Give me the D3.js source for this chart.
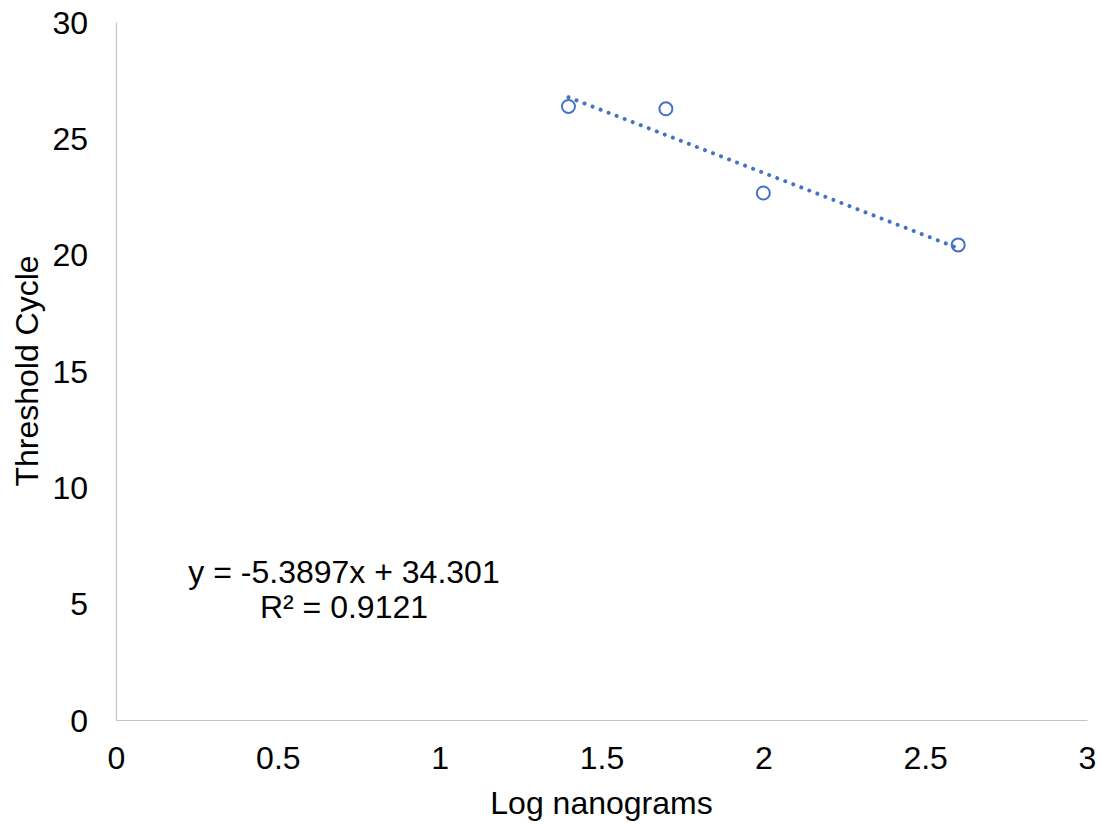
<!DOCTYPE html>
<html>
<head>
<meta charset="utf-8">
<script src="https://cdn.jsdelivr.net/npm/d3@7"></script>
<style>
  html, body { margin: 0; padding: 0; background: #ffffff; }
  svg { display: block; }
  text { font-family: "Liberation Sans", Arial, sans-serif; fill: #000000; }
</style>
</head>
<body>
<svg id="chart" width="1105" height="824"></svg>
<script>
// qPCR standard curve: threshold cycle against log of template amount
const logNanograms = [1.39794, 1.69897, 2.0, 2.60206];
const thresholdCycle = [26.37, 26.27, 22.65, 20.42];

// linear trendline reported on the chart
const trendSlope = [-5.3897];
const trendIntercept = [34.301];
const trendLabel = ["y = -5.3897x + 34.301", "R\u00b2 = 0.9121"];

const xTicks = [0, 0.5, 1, 1.5, 2, 2.5, 3];
const yTicks = [0, 5, 10, 15, 20, 25, 30];
const xTitle = "Log nanograms";
const yTitle = "Threshold Cycle";

const W = 1105, H = 824;
const plot = { left: 116, right: 1087, top: 22, bottom: 720 };
const seriesColor = "#4472C4";
const axisColor = "#c4c4c4";
const fontSize = 32;

const svg = d3.select("#chart");

const x = d3.scaleLinear().domain([0, 3]).range([plot.left, plot.right]);
const y = d3.scaleLinear().domain([0, 30]).range([plot.bottom, plot.top]);

// x axis: line along the bottom, labels below, no tick marks
const xAxis = svg.append("g")
  .attr("transform", `translate(0,${plot.bottom})`)
  .call(d3.axisBottom(x).tickValues(xTicks).tickSize(0).tickPadding(0)
    .tickFormat(d3.format("~g")));
xAxis.select(".domain").attr("stroke", axisColor).attr("stroke-width", 1.2);
xAxis.selectAll("text")
  .attr("y", 49).attr("dy", null)
  .style("font-size", fontSize + "px")
  .style("font-family", "'Liberation Sans', Arial, sans-serif")
  .attr("fill", "#000");

// y axis: line along the left, labels to the left
const yAxis = svg.append("g")
  .attr("transform", `translate(${plot.left},0)`)
  .call(d3.axisLeft(y).tickValues(yTicks).tickSize(0).tickPadding(0)
    .tickFormat(d3.format("~g")));
yAxis.select(".domain").attr("stroke", axisColor).attr("stroke-width", 1.2);
yAxis.selectAll("text")
  .attr("x", -28).attr("dy", "0.35em")
  .style("font-size", fontSize + "px")
  .style("font-family", "'Liberation Sans', Arial, sans-serif")
  .attr("fill", "#000");

// axis titles
svg.append("text")
  .attr("x", (plot.left + plot.right) / 2)
  .attr("y", 814)
  .attr("text-anchor", "middle")
  .style("font-size", fontSize + "px")
  .text(xTitle);

svg.append("text")
  .attr("transform", `translate(38,${(plot.top + plot.bottom) / 2}) rotate(-90)`)
  .attr("text-anchor", "middle")
  .style("font-size", fontSize + "px")
  .text(yTitle);

// data markers: open circles
svg.append("g").selectAll("circle")
  .data(logNanograms.map((v, i) => [v, thresholdCycle[i]]))
  .join("circle")
  .attr("cx", d => x(d[0]))
  .attr("cy", d => y(d[1]))
  .attr("r", 6.5)
  .attr("fill", "none")
  .attr("stroke", seriesColor)
  .attr("stroke-width", 2);

// dotted trendline across the span of the data
const xExt = d3.extent(logNanograms);
const trend = xExt.map(v => [v, trendIntercept[0] + trendSlope[0] * v]);
svg.append("path")
  .datum(trend)
  .attr("d", d3.line().x(d => x(d[0])).y(d => y(d[1])))
  .attr("fill", "none")
  .attr("stroke", seriesColor)
  .attr("stroke-width", 4)
  .attr("stroke-linecap", "round")
  .attr("stroke-dasharray", "0.01 8.6");

// trendline equation and R squared
const eq = svg.append("text")
  .attr("text-anchor", "middle")
  .style("font-size", fontSize + "px");
eq.selectAll("tspan")
  .data(trendLabel)
  .join("tspan")
  .attr("x", 344)
  .attr("y", (d, i) => 583 + i * 35)
  .text(d => d);
</script>
</body>
</html>
